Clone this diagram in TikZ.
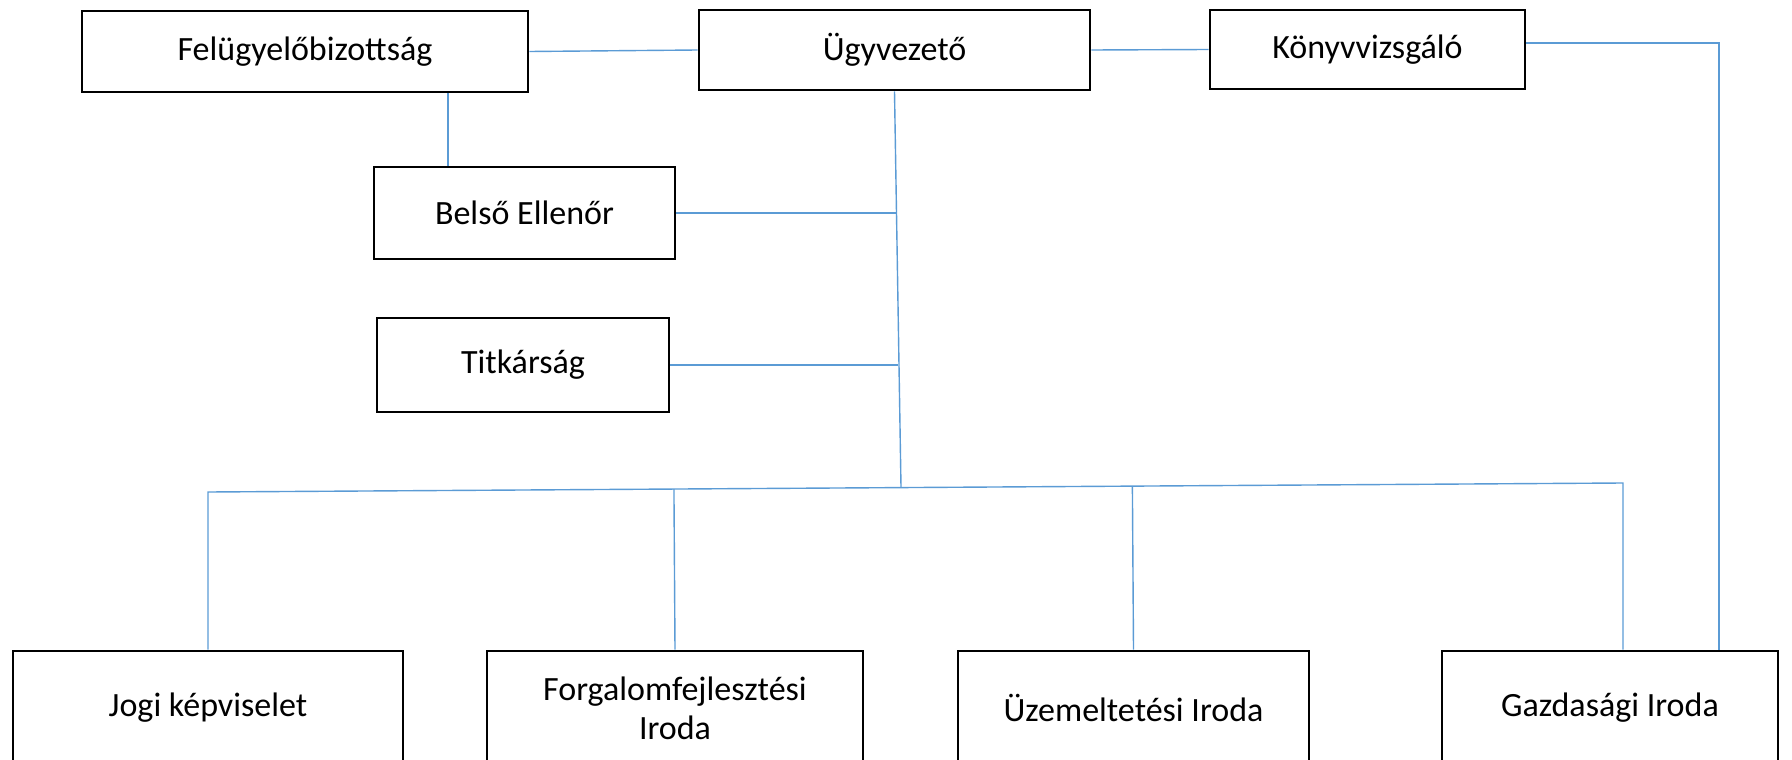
\documentclass[tikz,border=0pt]{standalone}
\usepackage{fontspec}
\setmainfont{Carlito}
\usetikzlibrary{calc}
\definecolor{conn}{RGB}{91,155,213}
\begin{document}
\begin{tikzpicture}[x=1pt,y=-1pt,
  orgbox/.style={draw=black,line width=2.7pt,fill=white,inner sep=0pt,
    align=center,font=\fontsize{34}{39}\selectfont},
  link/.style={draw=conn,line width=1.4pt}]
\useasboundingbox (0,0) rectangle (1792,760);
\clip (0,0) rectangle (1792,760);
% top row
\node[orgbox,minimum width=446pt,minimum height=81pt] (F) at (305,51.5) {Felügyelőbizottság};
\node[orgbox,minimum width=391pt,minimum height=80pt] (U) at (894.5,50) {Ügyvezető};
\node[orgbox,minimum width=315pt,minimum height=79pt] (K) at (1367.5,49.5) {Könyvvizsgáló};
% middle
\node[orgbox,minimum width=301pt,minimum height=92pt] (B) at (524.5,213) {Belső Ellenőr};
\node[orgbox,minimum width=292pt,minimum height=94pt] (T) at (523,365) {Titkárság};
% bottom row
\node[orgbox,minimum width=390pt,minimum height=114pt] (J) at (208,708) {Jogi képviselet};
\node[orgbox,minimum width=376pt,minimum height=114pt] (Fo) at (675,708) {Forgalomfejlesztési\\Iroda};
\node[orgbox,minimum width=351pt,minimum height=114pt] (Uz) at (1133.5,708) {Üzemeltetési Iroda};
\node[orgbox,minimum width=336pt,minimum height=114pt] (G) at (1610,708) {Gazdasági Iroda};
% coordinates
\coordinate (fb) at (448,0);
\coordinate (busU) at (901,487);
\coordinate (bm) at (896.5,213);
\coordinate (tm) at (898,365);
\coordinate (busL) at (208,492);
\coordinate (busR) at (1623,483);
\coordinate (kg) at (1719,43);
% connectors
\draw[link] (F.east) -- (U.west);
\draw[link] (U.east) -- (K.west);
\draw[link] (K.east |- kg) -- (kg) -- (kg |- G.north);
\draw[link] (F.south -| fb) -- (B.north -| fb);
\draw[link] (U.south) -- (busU);
\draw[link] (B.east) -- (bm);
\draw[link] (T.east) -- (tm);
\draw[link] (J.north) -- (busL) -- (busR) -- (busR |- G.north);
\draw[link] (Fo.north) -- ($(busL)!(Fo.north)!(busR)$);
\draw[link] (Uz.north) -- ($(busL)!(Uz.north)!(busR)$);
\end{tikzpicture}
\end{document}
